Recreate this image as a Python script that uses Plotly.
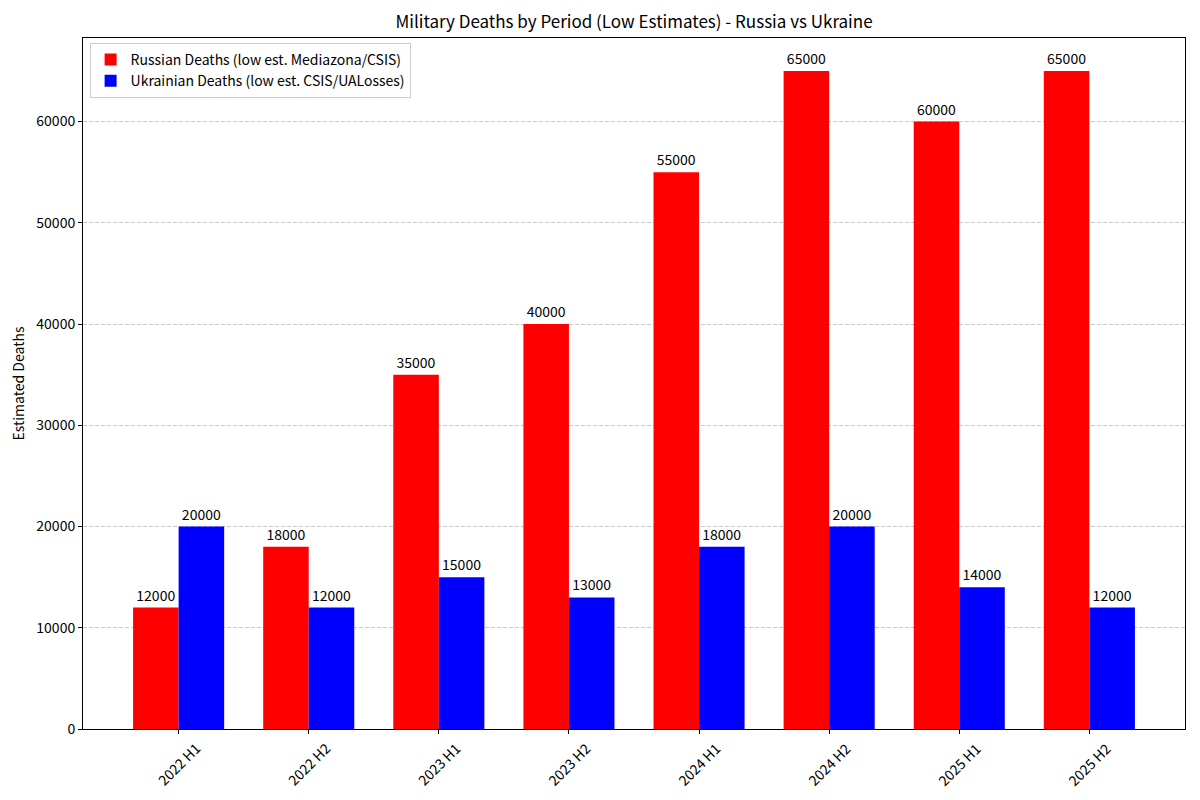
import plotly.graph_objects as go

periods = ["2022 H1", "2022 H2", "2023 H1", "2023 H2", "2024 H1", "2024 H2", "2025 H1", "2025 H2"]
russian = [12000, 18000, 35000, 40000, 55000, 65000, 60000, 65000]
ukrainian = [20000, 12000, 15000, 13000, 18000, 20000, 14000, 12000]

FONT = "Noto Sans CJK JP"
w = 0.35
idx = list(range(len(periods)))

fig = go.Figure()
fig.add_trace(go.Bar(
    x=[i - w / 2 for i in idx], y=russian, width=w,
    name="Russian Deaths (low est. Mediazona/CSIS)",
    marker=dict(color="#ff0000", line=dict(width=0)),
    text=[str(v) for v in russian], textposition="outside",
    textfont=dict(size=14, color="black", family=FONT), cliponaxis=False,
))
fig.add_trace(go.Bar(
    x=[i + w / 2 for i in idx], y=ukrainian, width=w,
    name="Ukrainian Deaths (low est. CSIS/UALosses)",
    marker=dict(color="#0000ff", line=dict(width=0)),
    text=[str(v) for v in ukrainian], textposition="outside",
    textfont=dict(size=14, color="black", family=FONT), cliponaxis=False,
))

for i, p in zip(idx, periods):
    fig.add_annotation(x=i, xref="x", y=0, yref="paper", yshift=-7,
                       text=p, textangle=-45, showarrow=False,
                       xanchor="center", yanchor="top",
                       font=dict(size=14, family=FONT, color="black"))

fig.update_layout(
    width=1200, height=800,
    margin=dict(l=83, r=15, t=38, b=71),
    paper_bgcolor="white", plot_bgcolor="white",
    font=dict(family=FONT, size=14, color="black"),
    title=dict(text="Military Deaths by Period (Low Estimates) - Russia vs Ukraine",
               x=634 / 1200, xanchor="center", y=1 - 22 / 800, yanchor="middle",
               font=dict(size=17, family=FONT, color="black")),
    barmode="overlay",
    showlegend=True,
    legend=dict(x=0.006, y=0.993, xanchor="left", yanchor="top",
                bgcolor="rgba(255,255,255,0.8)", bordercolor="#cccccc", borderwidth=1,
                font=dict(size=14, family=FONT), tracegroupgap=0, itemwidth=30),
    uniformtext=dict(mode=False),
)
fig.update_xaxes(
    range=[-0.735, 7.735], tickmode="array", tickvals=idx, showticklabels=False,
    ticks="outside", ticklen=4, tickcolor="black",
    showline=True, linecolor="black", linewidth=1, mirror=True,
    showgrid=False, zeroline=False,
)
fig.update_yaxes(
    range=[0, 68250], tickmode="array", tickvals=[0, 10000, 20000, 30000, 40000, 50000, 60000],
    ticktext=["0", "10000", "20000", "30000", "40000", "50000", "60000"],
    ticks="outside", ticklen=4, tickcolor="black",
    showline=True, linecolor="black", linewidth=1, mirror=True,
    showgrid=True, gridcolor="#c8c8c8", griddash="4px,2px", gridwidth=1,
    zeroline=False, tickfont=dict(size=14),
    title=dict(text="Estimated Deaths", font=dict(size=14), standoff=8),
)

fig.write_html("out.html")
